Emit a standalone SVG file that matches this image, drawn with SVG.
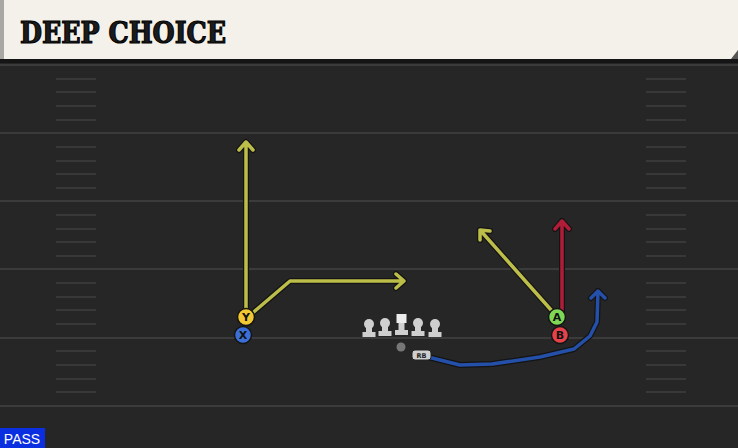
<svg xmlns="http://www.w3.org/2000/svg" width="738" height="448" viewBox="0 0 738 448">
<defs>
<style>
.yl{stroke:#3b3b3b;stroke-width:2}
.hs{stroke:#383838;stroke-width:2}
.out{fill:none;stroke:#141414;stroke-width:6;stroke-linecap:round;stroke-linejoin:round}
.rt{fill:none;stroke-width:3.5;stroke-linecap:round;stroke-linejoin:round}
.yel{stroke:#bdbd4a}
.red{stroke:#b11c38}
.blu{stroke:#2450aa}
.lbl{font-family:"DejaVu Sans","Liberation Sans",sans-serif;font-size:11px;font-weight:bold;fill:#111;text-anchor:middle}
.ol{fill:#cfcfcf}
.pc{stroke:#141414;stroke-width:1.5}
</style>
</defs>
<rect x="0" y="0" width="738" height="448" fill="#262626"/>
<g id="field">
<line class="yl" x1="0" y1="65" x2="738" y2="65"/>
<line class="yl" x1="0" y1="133" x2="738" y2="133"/>
<line class="yl" x1="0" y1="201" x2="738" y2="201"/>
<line class="yl" x1="0" y1="269" x2="738" y2="269"/>
<line class="yl" x1="0" y1="338" x2="738" y2="338"/>
<line class="yl" x1="0" y1="406" x2="738" y2="406"/>
<g id="hashes">
<path class="hs" d="M56 79H96M56 92H96M56 106H96M56 120H96M56 147H96M56 161H96M56 174H96M56 188H96M56 215H96M56 229H96M56 242H96M56 256H96M56 283H96M56 297H96M56 310H96M56 324H96M56 351H96M56 365H96M56 379H96M56 392H96"/>
<path class="hs" d="M646 79H686M646 92H686M646 106H686M646 120H686M646 147H686M646 161H686M646 174H686M646 188H686M646 215H686M646 229H686M646 242H686M646 256H686M646 283H686M646 297H686M646 310H686M646 324H686M646 351H686M646 365H686M646 379H686M646 392H686"/>
</g>
</g>
<g id="header">
<rect x="0" y="58" width="738" height="5" fill="#151515"/>
<rect x="0" y="0" width="738" height="59" fill="#f4f1ea"/>
<rect x="0" y="0" width="4" height="59" fill="#a9a8a4"/>
<path d="M731 59L738 50V59Z" fill="#555"/>
<text x="20" y="43" font-family="'DejaVu Serif','Liberation Serif',serif" font-weight="bold" font-size="29" fill="#1c1c1c" stroke="#000" stroke-width="1.2" textLength="206" lengthAdjust="spacingAndGlyphs">DEEP CHOICE</text>
</g>
<g id="connectors">
<g id="route-y-go">
<path class="out" d="M246 310V142M239 150L246 142L253 150"/>
<path class="rt yel" d="M246 310V142M239 150L246 142L253 150"/>
</g>
<g id="route-x-out">
<path class="out" d="M249 316L290 281H404M396 274L404 281L396 288"/>
<path class="rt yel" d="M249 316L290 281H404M396 274L404 281L396 288"/>
</g>
<g id="route-a-post">
<path class="out" d="M552 311L480 230M480 240L480 230L490 231"/>
<path class="rt yel" d="M552 311L480 230M480 240L480 230L490 231"/>
</g>
<g id="route-b-go">
<path class="out" d="M562 312V221M555 229L562 221L569 229"/>
<path class="rt red" d="M562 312V221M555 229L562 221L569 229"/>
</g>
<g id="route-rb-wheel">
<path class="out" d="M428 357L460 365L492 364L540 357L574 349L590 336L597 322L598 291M591 298L598 291L605 298"/>
<path class="rt blu" d="M428 357L460 365L492 364L540 357L574 349L590 336L597 322L598 291M591 298L598 291L605 298"/>
</g>
</g>
<g id="node-ol">
<g id="lt"><circle class="ol" cx="369" cy="324" r="5"/><rect class="ol" x="366" y="324" width="6" height="9"/><rect class="ol" x="362.5" y="332" width="13" height="5"/></g>
<g id="lg"><circle class="ol" cx="385" cy="323" r="5"/><rect class="ol" x="382" y="323" width="6" height="9"/><rect class="ol" x="378.5" y="331" width="13" height="5"/></g>
<g id="c"><rect fill="#ececec" x="396.5" y="314" width="10" height="9"/><rect class="ol" x="398.5" y="323" width="6" height="8"/><rect class="ol" x="395" y="330" width="13" height="5"/></g>
<g id="rg"><circle class="ol" cx="418" cy="323" r="5"/><rect class="ol" x="415" y="323" width="6" height="9"/><rect class="ol" x="411.5" y="331" width="13" height="5"/></g>
<g id="rt"><circle class="ol" cx="435" cy="324" r="5"/><rect class="ol" x="432" y="324" width="6" height="9"/><rect class="ol" x="428.5" y="332" width="13" height="5"/></g>
</g>
<g id="node-qb"><circle cx="401" cy="347" r="4.5" fill="#777"/></g>
<g id="node-rb"><rect x="412" y="350" width="19" height="10" rx="3" fill="#cfcfcf" stroke="#222" stroke-width="1"/><text x="421.5" y="358" font-family="'DejaVu Sans',sans-serif" font-size="6.5" font-weight="bold" fill="#222" text-anchor="middle">RB</text></g>
<g id="node-x"><circle class="pc" cx="243" cy="335" r="8.5" fill="#3b6fd6"/><text class="lbl" x="243" y="339">X</text></g>
<g id="node-y"><circle class="pc" cx="246" cy="317" r="8.5" fill="#f2c832"/><text class="lbl" x="246" y="321">Y</text></g>
<g id="node-b"><circle class="pc" cx="560" cy="335" r="8.5" fill="#e5424a"/><text class="lbl" x="560" y="339">B</text></g>
<g id="node-a"><circle class="pc" cx="557" cy="317" r="8.5" fill="#7fd855"/><text class="lbl" x="557" y="321">A</text></g>
<g id="pass">
<rect x="0" y="428" width="45" height="20" fill="#0a2fe0"/>
<text x="22" y="444" font-family="'Liberation Sans',Arial,sans-serif" font-size="14" fill="#fff" text-anchor="middle">PASS</text>
</g>
</svg>
